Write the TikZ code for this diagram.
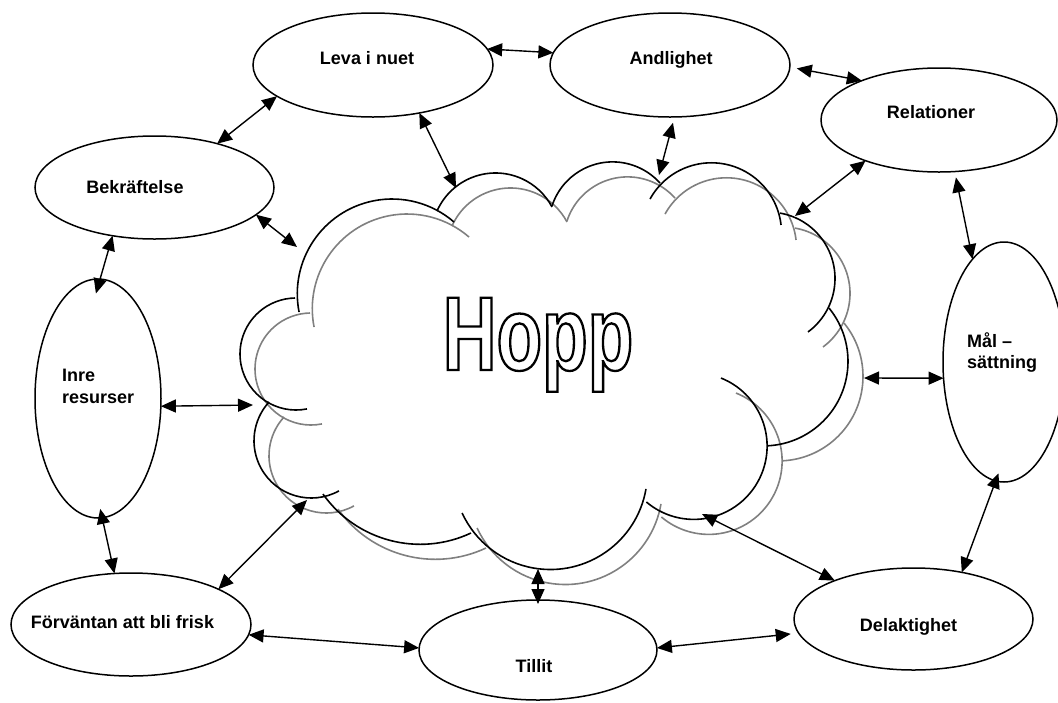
\documentclass[tikz,border=0pt]{standalone}
\usepackage{fontspec}
\setmainfont{Liberation Sans}
\newfontfamily\hoppfont[FakeStretch=0.71]{Liberation Sans}
\usetikzlibrary{arrows.meta,shapes.geometric}
\begin{document}
\begin{tikzpicture}[x=1pt,y=-1pt,
  oval/.style={draw, ellipse, line width=1.5pt, inner sep=0pt, outer sep=0pt},
  lbl/.style={font=\fontsize{18}{21}\selectfont\bfseries, inner sep=0pt, anchor=base},
  lblw/.style={lbl, anchor=base west},
  dbl/.style={line width=1.4pt, {Triangle[length=15pt,width=13pt]}-{Triangle[length=15pt,width=13pt]}},
  cloudline/.style={line width=1.6pt, black},
  shadowline/.style={line width=1.6pt, color=shadowgray}]
\definecolor{shadowgray}{RGB}{128,128,128}
\useasboundingbox (0,0) rectangle (1058,702);

% cloud shadow
\begin{scope}[shift={(15,15)}]
\foreach \h/\k/\r/\a/\b in {392.1/293.8/94.8/168.9/310.8, 495.5/237.0/64.0/204.0/332.0, 612.6/225.6/63.7/197.9/318.1, 711.4/232.9/70.1/208.9/353.5, 768.6/278.5/66.4/-80.1/53.6, 763.5/361.4/84.5/-39.2/87.6, 693.8/446.1/73.3/-68.2/130.3, 550.3/472.4/97.1/9.8/155.3, 420.3/424.9/119.4/64.9/144.6, 311.3/440.7/57.3/61.2/222.5, 296.0/354.0/56.0/78.7/269.0}
  {\draw[shadowline] (\h,\k) ++(\a:\r) arc[start angle=\a, end angle=\b, radius=\r];}
\end{scope}
% cloud outline
\foreach \h/\k/\r/\a/\b in {392.1/293.8/94.8/168.9/310.8, 495.5/237.0/64.0/204.0/332.0, 612.6/225.6/63.7/197.9/318.1, 711.4/232.9/70.1/208.9/353.5, 768.6/278.5/66.4/-80.1/53.6, 763.5/361.4/84.5/-39.2/87.6, 693.8/446.1/73.3/-68.2/130.3, 550.3/472.4/97.1/9.8/155.3, 420.3/424.9/119.4/64.9/144.6, 311.3/440.7/57.3/61.2/222.5, 296.0/354.0/56.0/78.7/269.0}
  {\draw[cloudline] (\h,\k) ++(\a:\r) arc[start angle=\a, end angle=\b, radius=\r];}

% cloud contact points
\coordinate (c1) at (456,188);
\coordinate (c2) at (659,175);
\coordinate (c3) at (795,216);
\coordinate (c4) at (297,247);
\coordinate (c5) at (253,405);
\coordinate (c6) at (307,500);
\coordinate (c7) at (538,569);
\coordinate (c8) at (702,514);
\coordinate (c9) at (864,378);

\node[inner sep=0pt, anchor=base] (hopp) at (538,370)
  {\hoppfont\bfseries\fontsize{105}{110}\selectfont\special{pdf:literal direct 1 Tr 2.3 w}Hopp\special{pdf:literal direct 0 Tr}};

% ellipses
\node[oval, minimum width=240pt, minimum height=104pt] (leva) at (373,65) {};
\node[oval, minimum width=240pt, minimum height=104pt] (andl) at (670,65) {};
\node[oval, minimum width=236pt, minimum height=104pt] (rel) at (939,120) {};
\node[oval, minimum width=239pt, minimum height=103pt] (bekr) at (154.5,187.5) {};
\node[oval, minimum width=126pt, minimum height=239pt] (inre) at (98,398.5) {};
\node[oval, minimum width=240pt, minimum height=103pt] (forv) at (131,624.5) {};
\node[oval, minimum width=238pt, minimum height=100pt] (tillit) at (538,650) {};
\node[oval, minimum width=239pt, minimum height=102pt] (del) at (913.5,619) {};
\node[oval, minimum width=122pt, minimum height=240pt] (mal) at (1004,362) {};

% labels
\node[lbl] (levaT) at (367,64) {Leva i nuet};
\node[lbl] (andlT) at (671,64) {Andlighet};
\node[lbl] (relT) at (931,118) {Relationer};
\node[lbl] (bekrT) at (135,193) {Bekräftelse};
\node[lblw] (inreT1) at (62,381) {Inre};
\node[lblw] (inreT2) at (62,403) {resurser};
\node[lbl] (forvT) at (122.5,628) {Förväntan att bli frisk};
\node[lbl] (tillitT) at (534,672) {Tillit};
\node[lbl] (delT) at (908.5,631) {Delaktighet};
\node[lblw] (malT1) at (967,347) {Mål –};
\node[lblw] (malT2) at (967,368) {sättning};

% connectors
\draw[dbl] (leva.8) -- (andl.174);
\draw[dbl, shorten <=7pt] (andl.-1) -- (rel.153);
\draw[dbl] (leva.198) -- (bekr.35);
\draw[dbl] (leva.-46) -- (c1);
\draw[dbl, shorten <=6pt] (andl.-85) -- (c2);
\draw[dbl] (rel.209) -- (c3);
\draw[dbl, shorten <=6pt] (rel.-73) -- (mal.107);
\draw[dbl] (bekr.-15) -- (c4);
\draw[dbl, shorten >=-15pt] (bekr.229) -- (inre.89);
\draw[dbl] (inre.-7) -- (c5);
\draw[dbl, shorten <=-9pt] (inre.-88) -- (forv.108);
\draw[dbl] (forv.22) -- (c6);
\draw[dbl] (forv.-5) -- (tillit.179);
\draw[dbl, shorten >=-4pt] (c7) -- (tillit.90);
\draw[dbl, shorten >=8pt] (tillit.1) -- (del.187);
\draw[dbl] (c8) -- (del.154);
\draw[dbl, shorten >=-8pt] (del.44) -- (mal.-94);
\draw[dbl] (c9) -- (mal.195);
\end{tikzpicture}
\end{document}
